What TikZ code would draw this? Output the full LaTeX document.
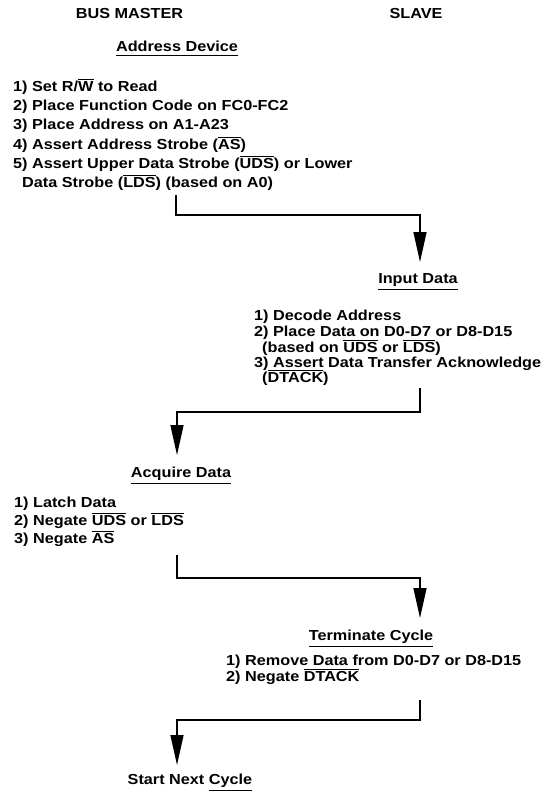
\documentclass[tikz,border=0pt]{standalone}
\usepackage{fontspec}
\setmainfont{Liberation Sans}[FakeStretch=1.12]
\usetikzlibrary{arrows.meta}
\newcommand\ovl[1]{\vbox{\hrule height 1pt\kern 1.3pt\hbox{#1}}}
\newcommand\hdul[1]{\vtop{\hbox{#1}\kern 2.8pt\hrule height 1.2pt}}
\tikzset{
  txt/.style={inner sep=0pt, font=\fontsize{14.5}{17}\selectfont\bfseries},
  item/.style={txt, anchor=base west},
  head/.style={txt, anchor=base},
  flow/.style={line width=1.3pt, -{Triangle[length=30pt,width=13pt]}},
}
\begin{document}
\begin{tikzpicture}[x=1pt,y=-1pt]
\useasboundingbox (0,0) rectangle (555,792);
% column titles
\node[head] (bm) at (129.5,19) {BUS MASTER};
\node[head] (sl) at (416,19) {SLAVE};
% Address Device
\node[head] (ad) at (177,52) {\hdul{Address Device}};
\node[item] (a1) at (13,91) {1) Set R/\ovl{W} to Read};
\node[item] (a2) at (13,110) {2) Place Function Code on FC0-FC2};
\node[item] (a3) at (13,129.5) {3) Place Address on A1-A23};
\node[item] (a4) at (13,149) {4) Assert Address Strobe (\ovl{AS})};
\node[item] (a5) at (13,168) {5) Assert Upper Data Strobe (\ovl{UDS}) or Lower};
\node[item] (a6) at (22,187) {Data Strobe (\ovl{LDS}) (based on A0)};
% Input Data
\node[head] (id) at (418,283) {\hdul{Input Data}};
\node[item] (b1) at (254,320) {1) Decode Address};
\node[item] (b2) at (254,336) {2) Place Data on D0-D7 or D8-D15};
\node[item] (b3) at (262,352) {(based on \ovl{UDS} or \ovl{LDS})};
\node[item] (b4) at (254,367) {3) Assert Data Transfer Acknowledge};
\node[item] (b5) at (262,382) {(\ovl{DTACK})};
% Acquire Data
\node[head] (aq) at (181,477) {\hdul{Acquire Data}};
\node[item] (c1) at (14,507) {1) Latch Data};
\node[item] (c2) at (14,525) {2) Negate \ovl{UDS} or \ovl{LDS}};
\node[item] (c3) at (14,543) {3) Negate \ovl{AS}};
% Terminate Cycle
\node[head] (tc) at (371,640) {\hdul{Terminate Cycle}};
\node[item] (d1) at (226,665) {1) Remove Data from D0-D7 or D8-D15};
\node[item] (d2) at (226,681) {2) Negate \ovl{DTACK}};
% Start Next Cycle
\node[head] (sn) at (190,784) {Start Next \hdul{Cycle}};
% connectors
\coordinate (s1) at (176,195); \coordinate (k1) at (176,215); \coordinate (t1) at (420,262);
\coordinate (s2) at (420,388); \coordinate (k2) at (420,412); \coordinate (t2) at (177,455);
\coordinate (s3) at (177,555); \coordinate (k3) at (177,578); \coordinate (t3) at (420,618);
\coordinate (s4) at (420,700); \coordinate (k4) at (420,720); \coordinate (t4) at (177,765);
\draw[flow] (s1) -- (k1) -| (t1);
\draw[flow] (s2) -- (k2) -| (t2);
\draw[flow] (s3) -- (k3) -| (t3);
\draw[flow] (s4) -- (k4) -| (t4);
\end{tikzpicture}
\end{document}
